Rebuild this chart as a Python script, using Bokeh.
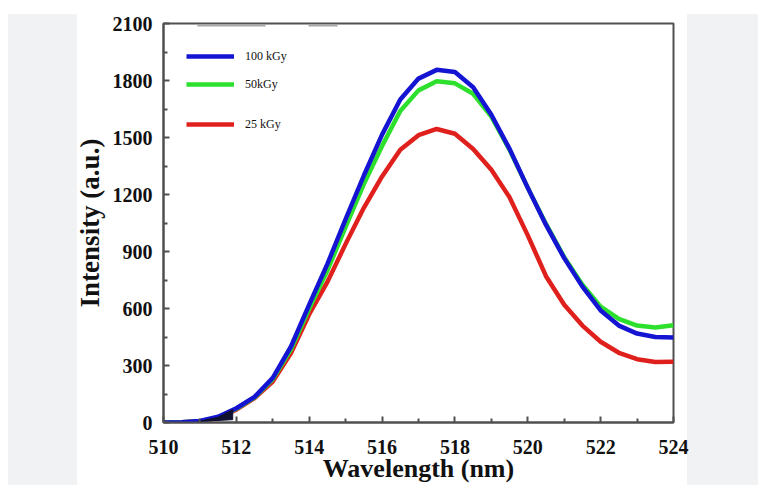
from bokeh.plotting import figure
from bokeh.models import Range1d, FixedTicker, Legend, LegendItem
from bokeh.embed import file_html
from bokeh.resources import INLINE

# ---- data ----
wavelength = [510, 510.5, 511, 511.5, 512, 512.5, 513, 513.5, 514, 514.5, 515, 515.5,
              516, 516.5, 517, 517.5, 518, 518.5, 519, 519.5, 520, 520.5, 521, 521.5,
              522, 522.5, 523, 523.5, 524]
int_100kGy = [0, 1, 8, 30, 75, 135, 235, 400, 620, 835, 1070, 1300,
              1515, 1700, 1810, 1856, 1845, 1765, 1620, 1440, 1235, 1040, 865, 715,
              590, 510, 468, 450, 447]
int_50kGy = [0, 1, 7, 28, 72, 132, 228, 385, 600, 800, 1030, 1255,
             1455, 1640, 1748, 1796, 1785, 1730, 1610, 1435, 1235, 1045, 870, 725,
             610, 545, 510, 500, 512]
int_25kGy = [0, 1, 6, 25, 68, 128, 215, 365, 570, 740, 940, 1130,
             1295, 1435, 1512, 1545, 1520, 1440, 1330, 1185, 985, 770, 620, 510,
             425, 367, 333, 318, 320]
series_labels = ["100 kGy", "50kGy", "25 kGy"]
x_ticks = [510, 512, 514, 516, 518, 520, 522, 524]
y_ticks = [0, 300, 600, 900, 1200, 1500, 1800, 2100]
x_title = "Wavelength (nm)"
y_title = "Intensity (a.u.)"

# small scan artefacts visible in the reference
artefact_seg_x0 = [510.93, 513.98]
artefact_seg_x1 = [512.8, 514.78]
artefact_seg_y = [2090, 2090]
wedge_x = [510.95, 511.5, 511.9, 511.9]
wedge_y = [5, 28, 68, 15]

SERIF = "Liberation Serif"
BLUE, GREEN, RED = "#1414d2", "#2ee02e", "#e0201c"
AXIS_GRAY = "#505050"
GRAY_PANEL = "#f1f2f4"

p = figure(width=758, height=485, x_range=Range1d(510, 524), y_range=Range1d(0, 2100),
           output_backend="svg", toolbar_location=None,
           min_border_left=163, min_border_right=85, min_border_top=23, min_border_bottom=63)
p.background_fill_color = "white"
p.border_fill_alpha = 0
# page backdrop: white strip on top / far left, light grey side panels
p.styles = {"background": (
    "linear-gradient(#ffffff, #ffffff) top left / 100% 14px no-repeat, "
    f"linear-gradient(to right, #ffffff 0px, #ffffff 8px, {GRAY_PANEL} 8px, {GRAY_PANEL} 77px, "
    f"#ffffff 77px, #ffffff 687px, {GRAY_PANEL} 687px, {GRAY_PANEL} 100%)")}
p.xgrid.visible = False
p.ygrid.visible = False
p.outline_line_color = AXIS_GRAY
p.outline_line_width = 2

r25 = p.line(wavelength, int_25kGy, line_color=RED, line_width=4.5, line_join="round")
r50 = p.line(wavelength, int_50kGy, line_color=GREEN, line_width=4.5, line_join="round")
r100 = p.line(wavelength, int_100kGy, line_color=BLUE, line_width=4.5, line_join="round")
p.patch(wedge_x, wedge_y, fill_color="#101030", line_color="#101030", line_width=1)
p.segment(x0=artefact_seg_x0, y0=artefact_seg_y, x1=artefact_seg_x1, y1=artefact_seg_y,
          line_color="#a8a8a8", line_width=2)

for ax in (p.xaxis[0], p.yaxis[0]):
    ax.axis_line_color = AXIS_GRAY
    ax.axis_line_width = 2
    ax.major_tick_line_color = AXIS_GRAY
    ax.minor_tick_line_color = AXIS_GRAY
    ax.major_tick_line_width = 2
    ax.minor_tick_line_width = 2
    ax.major_tick_in = 6
    ax.major_tick_out = 0
    ax.minor_tick_in = 4
    ax.minor_tick_out = 0
    ax.major_label_text_font = SERIF
    ax.major_label_text_font_style = "bold"
    ax.major_label_text_font_size = "20px"
    ax.major_label_text_color = "#111111"
    ax.axis_label_text_font = SERIF
    ax.axis_label_text_font_style = "bold"
    ax.axis_label_text_color = "#111111"

p.xaxis.ticker = FixedTicker(ticks=x_ticks, minor_ticks=[x + 1 for x in x_ticks[:-1]])
p.yaxis.ticker = FixedTicker(ticks=y_ticks, minor_ticks=[y + 150 for y in y_ticks[:-1]])
p.xaxis.axis_label = x_title
p.yaxis.axis_label = y_title
p.xaxis.axis_label_text_font_size = "26px"
p.yaxis.axis_label_text_font_size = "27px"
p.xaxis.major_label_standoff = 17
p.yaxis.major_label_standoff = 11
p.xaxis.axis_label_standoff = -3
p.yaxis.axis_label_standoff = 5

common = dict(label_text_font=SERIF, label_text_font_size="12px", label_text_color="#111111",
              glyph_width=48, glyph_height=20, label_height=20, label_standoff=11,
              padding=0, margin=0, border_line_alpha=0, background_fill_alpha=0)
leg_a = Legend(items=[LegendItem(label=series_labels[0], renderers=[r100]),
                      LegendItem(label=series_labels[1], renderers=[r50])],
               location=(23, 328), spacing=8, **common)
leg_b = Legend(items=[LegendItem(label=series_labels[2], renderers=[r25])],
               location=(23, 288), **common)
p.add_layout(leg_a)
p.add_layout(leg_b)

open("out.html", "w").write(file_html(p, INLINE))
